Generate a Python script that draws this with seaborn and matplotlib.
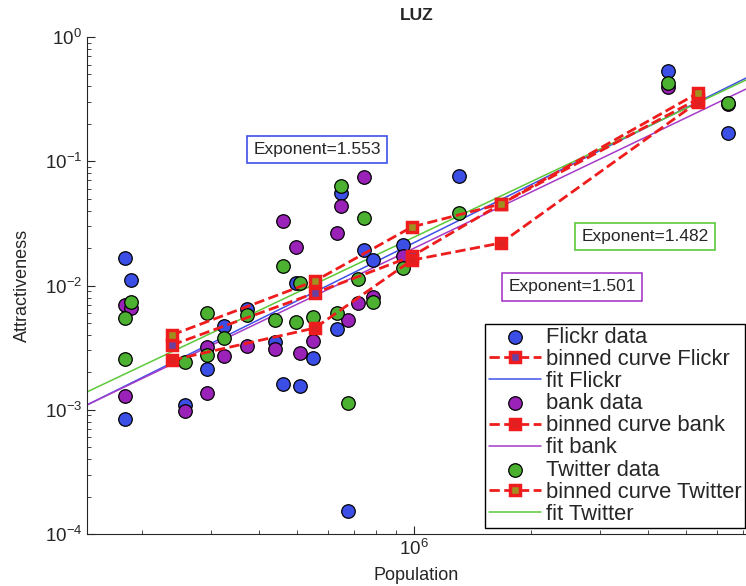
import numpy as np
import pandas as pd
import matplotlib
matplotlib.use("Agg")
import matplotlib.pyplot as plt
import seaborn as sns
from matplotlib.ticker import NullFormatter

# dati (popolazione, attrattivita')
flickr_pop = [1.807e5, 1.873e5, 1.807e5, 2.578e5, 2.937e5, 3.25e5, 3.724e5, 4.393e5,
              4.605e5, 4.974e5, 5.093e5, 5.50e5, 6.34e5, 6.49e5, 6.766e5, 7.438e5,
              7.845e5, 9.37e5, 1.305e6, 4.497e6, 6.42e6]
flickr_att = [0.01665, 0.01107, 0.000843, 0.00109, 0.00213, 0.00472, 0.00647, 0.00351,
              0.00161, 0.01047, 0.00155, 0.00261, 0.00447, 0.0555, 0.000153, 0.0193,
              0.01604, 0.0212, 0.0761, 0.532, 0.169]

bank_pop = [1.807e5, 1.873e5, 1.807e5, 2.578e5, 2.937e5, 2.937e5, 3.25e5, 3.724e5,
            4.393e5, 4.605e5, 4.974e5, 5.093e5, 5.50e5, 6.34e5, 6.49e5, 6.766e5,
            7.178e5, 7.438e5, 7.845e5, 9.37e5, 4.497e6, 6.42e6]
bank_att = [0.00697, 0.00659, 0.00129, 0.000977, 0.0032, 0.00136, 0.00271, 0.00326,
            0.00308, 0.0330, 0.0204, 0.00286, 0.00358, 0.02646, 0.0436, 0.00528,
            0.00723, 0.0747, 0.00808, 0.01727, 0.396, 0.29]

twitter_pop = [1.873e5, 1.807e5, 1.807e5, 2.578e5, 2.937e5, 2.937e5, 3.25e5, 3.724e5,
               4.393e5, 4.605e5, 4.974e5, 5.093e5, 5.50e5, 6.34e5, 6.49e5, 6.766e5,
               7.178e5, 7.438e5, 7.845e5, 9.37e5, 1.305e6, 4.497e6, 6.42e6]
twitter_att = [0.00736, 0.00547, 0.00256, 0.00242, 0.00601, 0.00276, 0.00378, 0.00579,
               0.00528, 0.01435, 0.00508, 0.01047, 0.00558, 0.00601, 0.0632, 0.00113,
               0.01128, 0.0349, 0.00736, 0.01383, 0.0383, 0.4265, 0.294]

# curve binnate
bin_pop = [2.388e5, 5.566e5, 9.88e5, 1.673e6, 5.37e6]
bin_flickr = [0.00332, 0.0087, 0.0172, 0.0453, 0.317]
bin_bank = [0.00251, 0.00455, 0.0160, 0.02198, 0.300]
bin_twitter = [0.0040, 0.01087, 0.0296, 0.0453, 0.354]

# fit: log10(y) = esponente*log10(x) + intercetta
esponenti = [1.553, 1.501, 1.482]
intercette = [-10.974, -10.706, -10.503]

nomi = ["Flickr", "bank", "Twitter"]
col_dati = ["#3b4ee6", "#9a22b8", "#4cb030"]
col_fit = ["#4050e8", "#a53cc8", "#5cc83a"]
col_centro = ["#6a40a0", "#e02020", "#a09020"]

sns.set_style("ticks")
plt.rcParams["font.family"] = ["Liberation Sans", "DejaVu Sans"]
plt.rcParams["mathtext.fontset"] = "dejavusans"

fig = plt.figure(figsize=(7.46, 5.86), dpi=100)
ax = fig.add_axes([87 / 746, 52 / 586, 659 / 746, 497 / 586])
ax.set_xscale("log")
ax.set_yscale("log")
xlim = (1.444e5, 7.137e6)

dati = [(flickr_pop, flickr_att), (bank_pop, bank_att), (twitter_pop, twitter_att)]
binned = [bin_flickr, bin_bank, bin_twitter]
xfit = np.logspace(np.log10(xlim[0]), np.log10(xlim[1]), 50)

for i, nome in enumerate(nomi):
    df = pd.DataFrame({"pop": dati[i][0], "att": dati[i][1]})
    sns.scatterplot(data=df, x="pop", y="att", ax=ax, color=col_dati[i], s=95,
                    edgecolor="black", linewidth=0.9, label=f"{nome} data", zorder=3)
    dfb = pd.DataFrame({"pop": bin_pop, "att": binned[i]})
    sns.lineplot(data=dfb, x="pop", y="att", ax=ax, color="#ee1c1c", linestyle="--",
                 linewidth=2, marker="s", markersize=7, markerfacecolor=col_centro[i],
                 markeredgecolor="#ee1c1c", markeredgewidth=2.5,
                 label=f"binned curve {nome}", zorder=4)
    dff = pd.DataFrame({"pop": xfit,
                        "att": 10 ** (esponenti[i] * np.log10(xfit) + intercette[i])})
    sns.lineplot(data=dff, x="pop", y="att", ax=ax, color=col_fit[i], linewidth=1.1,
                 label=f"fit {nome}", zorder=2)

ax.set_xlim(*xlim)
ax.set_ylim(1e-4, 1e0)
ax.xaxis.set_minor_formatter(NullFormatter())
ax.tick_params(which="both", direction="in", labelsize=13.5)
ax.tick_params(which="major", length=6)
ax.tick_params(which="minor", length=3)
sns.despine(ax=ax)

ax.set_title("LUZ", fontsize=12.5, fontweight="bold", pad=12)
ax.set_xlabel("Population", fontsize=13, labelpad=6)
ax.set_ylabel("Attractiveness", fontsize=13, labelpad=10)

# box con gli esponenti
pos_box = [(0.349, 0.773), (0.736, 0.497), (0.847, 0.598)]
for i in range(3):
    ax.text(pos_box[i][0], pos_box[i][1], f"Exponent={esponenti[i]}", transform=ax.transAxes,
            ha="center", va="center", fontsize=12.5,
            bbox=dict(boxstyle="square,pad=0.35", facecolor="white", edgecolor=col_fit[i],
                      linewidth=1.2))

leg = ax.legend(loc="lower right", bbox_to_anchor=(0.998, 0.012), borderaxespad=0,
                fontsize=15.8, frameon=True, fancybox=False, edgecolor="black",
                handlelength=2.4, handletextpad=0.2, labelspacing=0.05,
                borderpad=0.15, framealpha=1)
leg.get_frame().set_linewidth(1.0)

fig.savefig("out.png", dpi=100)
